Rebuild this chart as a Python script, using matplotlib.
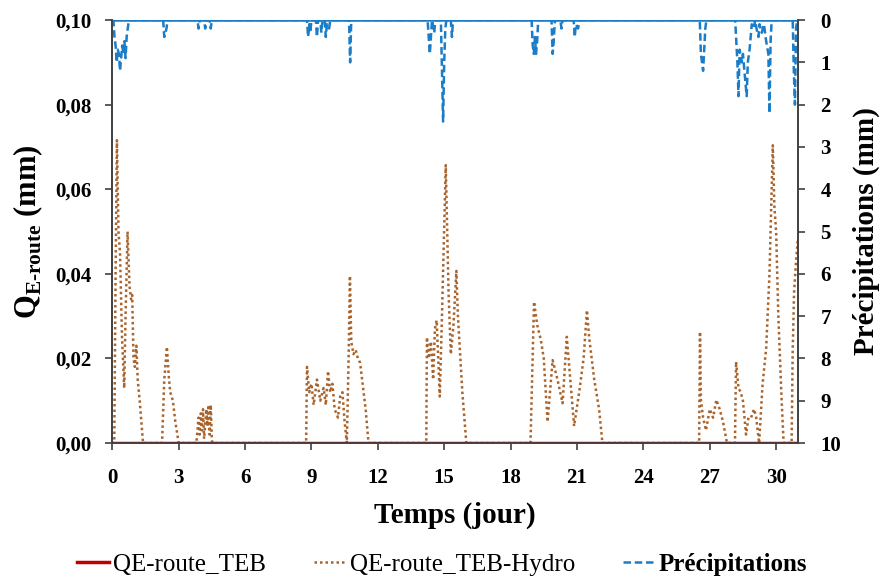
"""Runoff QE-route (TEB vs TEB-Hydro) with precipitation on an inverted right axis."""
import matplotlib.pyplot as plt
from matplotlib.ticker import FuncFormatter, MultipleLocator

plt.rcParams["font.family"] = ["Liberation Serif", "DejaVu Serif"]
plt.rcParams["mathtext.fontset"] = "custom"
plt.rcParams["mathtext.rm"] = "Liberation Serif:bold"

# QE-route_TEB: zero over the whole month
teb_t = [0.0, 31.0]
teb_v = [0.0, 0.0]

# QE-route_TEB-Hydro (mm)
hydro_t = [0.0, 0.09, 0.15, 0.21, 0.28, 0.35, 0.44, 0.54, 0.6, 0.69, 0.78, 0.85, 0.9, 0.96,
           1.02, 1.09, 1.15, 1.24, 1.39,
           2.25, 2.35, 2.47, 2.55, 2.62, 2.74, 2.85, 3.0,
           3.8, 3.85, 3.9, 3.95, 4.0, 4.05, 4.1, 4.15, 4.25, 4.3, 4.35, 4.4, 4.45, 4.5, 4.52,
           8.76, 8.8, 8.9, 9.0, 9.1, 9.25, 9.4, 9.55, 9.65, 9.75, 9.85, 9.95, 10.05, 10.2,
           10.3, 10.4, 10.5, 10.6, 10.68, 10.74, 10.8, 10.9, 11.0, 11.1, 11.2, 11.45, 11.58,
           14.19, 14.22, 14.3, 14.4, 14.5, 14.58, 14.66, 14.8, 14.9, 15.07, 15.2, 15.3, 15.42,
           15.55, 15.62, 15.82, 16.0,
           18.9, 19.06, 19.2, 19.37, 19.5, 19.67, 19.9, 20.12, 20.35, 20.54, 20.7, 20.87,
           21.1, 21.3, 21.45, 21.55, 21.78, 22.0, 22.15,
           26.52, 26.56, 26.6, 26.7, 26.83, 27.0, 27.15, 27.3, 27.45, 27.6, 27.78,
           28.14, 28.19, 28.3, 28.4, 28.5, 28.64, 28.75, 28.87, 29.0, 29.1, 29.23, 29.3,
           29.39, 29.55, 29.7, 29.85, 29.92, 30.0, 30.1, 30.25, 30.34,
           30.7, 30.75, 30.81, 30.9, 30.98, 31.0]
hydro_v = [0.0, 0.0, 0.04, 0.0716, 0.05, 0.045, 0.025, 0.013, 0.03, 0.05, 0.037, 0.034, 0.035, 0.02,
           0.018, 0.023, 0.015, 0.01, 0.0,
           0.0, 0.015, 0.0227, 0.016, 0.012, 0.01, 0.005, 0.0,
           0.0, 0.003, 0.006, 0.002, 0.007, 0.003, 0.008, 0.001, 0.008, 0.004, 0.009, 0.002, 0.009, 0.001, 0.0,
           0.0, 0.018, 0.012, 0.014, 0.009, 0.015, 0.010, 0.013, 0.009, 0.017, 0.012, 0.014, 0.008, 0.006,
           0.011, 0.012, 0.005, 0.0, 0.02, 0.0395, 0.024, 0.021, 0.022, 0.02, 0.019, 0.008, 0.0,
           0.0, 0.025, 0.02, 0.024, 0.015, 0.027, 0.029, 0.011, 0.03, 0.0657, 0.035, 0.021, 0.028,
           0.0407, 0.03, 0.012, 0.0,
           0.0, 0.0334, 0.028, 0.0243, 0.02, 0.005, 0.0196, 0.015, 0.0094, 0.0251, 0.015, 0.004,
           0.012, 0.02, 0.0314, 0.025, 0.015, 0.008, 0.0,
           0.0, 0.0263, 0.0102, 0.006, 0.003, 0.008, 0.006, 0.0102, 0.008, 0.005, 0.0,
           0.0, 0.0192, 0.013, 0.012, 0.01, 0.002, 0.006, 0.006, 0.008, 0.006, 0.0, 0.006,
           0.014, 0.0224, 0.04, 0.0704, 0.056, 0.05, 0.03, 0.01, 0.0,
           0.0, 0.022, 0.0354, 0.043, 0.048, 0.047]

# Précipitations (mm), right axis
rain_t = [0.0, 0.05, 0.1, 0.15, 0.2, 0.25, 0.3, 0.35, 0.4, 0.45, 0.5, 0.55, 0.6, 0.65, 0.7, 0.75,
          2.3, 2.35, 2.45, 2.5,
          3.85, 3.9, 3.95, 4.15, 4.2, 4.25, 4.4, 4.45, 4.5,
          8.8, 8.85, 8.9, 8.95, 9.0, 9.2, 9.25, 9.3, 9.4, 9.45, 9.5, 9.6, 9.65, 9.7, 9.8, 9.85,
          10.7, 10.75, 10.8,
          14.25, 14.35, 14.4, 14.45, 14.55, 14.6, 14.85, 14.9, 14.95, 15.0, 15.05, 15.1, 15.3, 15.35, 15.4,
          18.95, 19.0, 19.05, 19.1, 19.15, 19.2, 19.25, 19.85, 19.9, 19.95, 20.0, 20.25, 20.3, 20.35,
          20.85, 20.9, 20.95, 21.05, 21.1,
          26.55, 26.6, 26.7, 26.8, 26.85,
          28.15, 28.25, 28.3, 28.35, 28.45, 28.5, 28.6, 28.67, 28.72, 28.8, 28.9, 29.0, 29.05, 29.15,
          29.2, 29.25, 29.35, 29.45, 29.55, 29.65, 29.7, 29.75, 29.8,
          30.75, 30.8, 30.85, 30.9, 30.95, 31.0]
rain_v = [0.0, 0.0, 0.4, 0.6, 1.0, 0.7, 0.8, 1.2, 0.9, 0.6, 0.8, 0.5, 0.9, 0.4, 0.2, 0.0,
          0.0, 0.4, 0.2, 0.0,
          0.0, 0.2, 0.0, 0.0, 0.2, 0.0, 0.0, 0.2, 0.0,
          0.0, 0.4, 0.1, 0.3, 0.0, 0.0, 0.4, 0.0, 0.0, 0.3, 0.0, 0.0, 0.4, 0.1, 0.2, 0.0,
          0.0, 1.0, 0.0,
          0.0, 0.8, 0.4, 0.0, 0.3, 0.0, 0.0, 1.2, 2.4, 1.0, 0.2, 0.0, 0.0, 0.4, 0.0,
          0.0, 0.6, 0.8, 0.4, 0.8, 0.5, 0.0, 0.0, 0.8, 0.5, 0.0, 0.0, 0.2, 0.0,
          0.0, 0.4, 0.1, 0.2, 0.0,
          0.0, 0.8, 1.2, 0.2, 0.0,
          0.0, 1.0, 1.8, 0.7, 1.0, 0.8, 1.4, 1.8, 1.0, 0.7, 0.1, 0.2, 0.0, 0.3,
          0.4, 0.1, 0.3, 0.1, 0.5, 0.8, 2.2, 0.5, 0.0,
          0.0, 1.2, 2.0, 0.2, 0.0, 0.0]

x_ticks = [0, 3, 6, 9, 12, 15, 18, 21, 24, 27, 30]

RAIN_COLOR = "#1B7CC8"


def comma(v, _pos):
    return f"{v:.2f}".replace(".", ",")


fig = plt.figure(figsize=(8.84, 5.81), dpi=100)
ax = fig.add_axes([0.127, 0.2375, 0.776, 0.728])
ax2 = ax.twinx()

h_teb, = ax.plot(teb_t, teb_v, color="#C00000", lw=2.5, zorder=3)
h_hydro, = ax.plot(hydro_t, hydro_v, color="#A8642C", lw=1.8, ls=(0, (1, 1.2)), zorder=2)
# dry periods read as a continuous line along the top in the original
ax2.axhline(0, color=RAIN_COLOR, lw=1.8)
h_rain, = ax2.plot(rain_t, rain_v, color=RAIN_COLOR, lw=1.8, ls=(0, (3, 1.5)))

ax.set_xlim(0, 31)
ax.set_ylim(0, 0.10)
ax2.set_ylim(10, 0)
ax.set_xticks(x_ticks)
ax.yaxis.set_major_locator(MultipleLocator(0.02))
ax.yaxis.set_major_formatter(FuncFormatter(comma))
ax2.yaxis.set_major_locator(MultipleLocator(1))

for a in (ax, ax2):
    a.spines["top"].set_visible(False)
    for s in a.spines.values():
        s.set_color("#404040")
        s.set_linewidth(1.2)
    a.tick_params(direction="out", length=5, width=1.2, color="#404040", labelsize=15)
    for lab in a.get_xticklabels() + a.get_yticklabels():
        lab.set_fontweight("bold")
ax.tick_params(axis="y", pad=10)
ax.tick_params(axis="x", pad=13)
ax2.tick_params(axis="y", pad=11)

ax.set_xlabel("Temps (jour)", fontsize=21, fontweight="bold", labelpad=10)
ax.set_ylabel(r"Q$_{\mathrm{E\text{-}route}}$ (mm)", fontsize=22, fontweight="bold", labelpad=7)
ax2.set_ylabel("Précipitations (mm)", fontsize=21, fontweight="bold", labelpad=8)

leg = fig.legend([h_teb, h_hydro, h_rain],
                 ["QE-route_TEB", "QE-route_TEB-Hydro", "Précipitations"],
                 loc="lower center", bbox_to_anchor=(0.5, -0.03), ncol=3, frameon=False,
                 fontsize=18, handlelength=1.3, handletextpad=0.15, columnspacing=1.9)
leg.get_texts()[2].set_fontweight("bold")

fig.savefig("out.png", dpi=100)
